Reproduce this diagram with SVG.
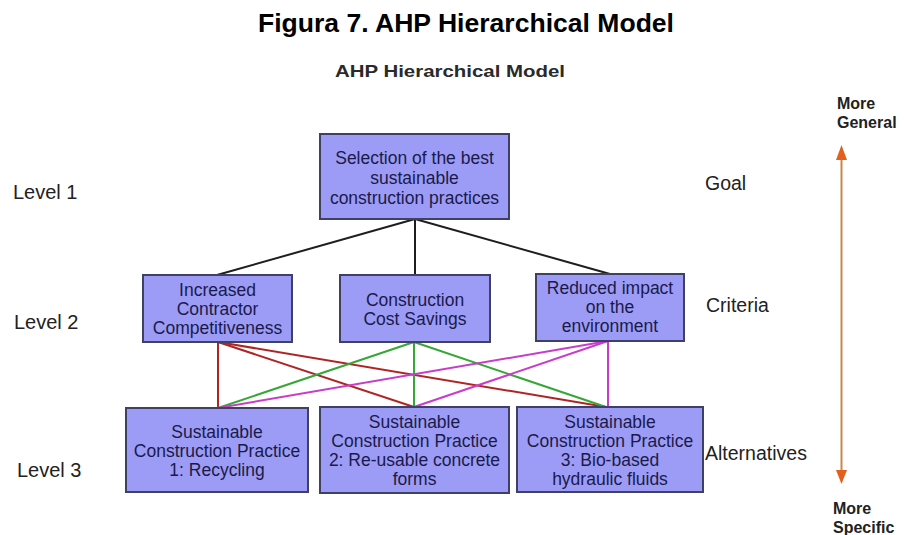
<svg xmlns="http://www.w3.org/2000/svg" width="904" height="535" viewBox="0 0 904 535">
  <style>
    .title { font-family: "Liberation Sans", Arial, sans-serif; font-weight: bold; fill: #000; }
    .sub { font-family: "Liberation Sans", Arial, sans-serif; font-weight: bold; fill: #2a2a2a; }
    .box { fill: #9c9cf6; stroke: #3e4064; stroke-width: 2; }
    .btxt { font-family: "Liberation Sans", Arial, sans-serif; font-size: 17.5px; fill: #1a1a4a; text-anchor: middle; }
    .side { font-family: "Liberation Sans", Arial, sans-serif; font-size: 20px; fill: #222; }
    .tag { font-family: "Liberation Sans", Arial, sans-serif; font-size: 19.5px; fill: #222; }
    .dir { font-family: "Liberation Sans", Arial, sans-serif; font-size: 16px; font-weight: bold; fill: #222; }
    .k { stroke: #1e1e1e; stroke-width: 2; fill: none; }
    .r { stroke: #b02424; stroke-width: 2; fill: none; }
    .g { stroke: #36a636; stroke-width: 2; fill: none; }
    .m { stroke: #c83cc8; stroke-width: 2; fill: none; }
  </style>

  <!-- headings -->
  <text class="title" x="466" y="32" font-size="26" text-anchor="middle" textLength="416" lengthAdjust="spacingAndGlyphs">Figura 7. AHP Hierarchical Model</text>
  <text class="sub" x="450" y="77" font-size="17" text-anchor="middle" textLength="230" lengthAdjust="spacingAndGlyphs">AHP Hierarchical Model</text>

  <!-- level labels -->
  <text class="side" x="13" y="199">Level 1</text>
  <text class="side" x="14" y="329">Level 2</text>
  <text class="side" x="17" y="477">Level 3</text>

  <text class="tag" x="705" y="190">Goal</text>
  <text class="tag" x="706" y="312">Criteria</text>
  <text class="tag" x="705" y="460">Alternatives</text>

  <!-- connectors -->
  <g id="connectors">
    <line class="k" x1="415" y1="219" x2="217" y2="275"/>
    <line class="k" x1="415" y1="219" x2="415" y2="275"/>
    <line class="k" x1="415" y1="219" x2="610" y2="274"/>

    <line class="r" x1="218" y1="342" x2="218" y2="408"/>
    <line class="r" x1="218" y1="342" x2="414" y2="407"/>
    <line class="r" x1="218" y1="342" x2="606" y2="407"/>

    <line class="g" x1="414" y1="342" x2="218" y2="408"/>
    <line class="g" x1="414" y1="342" x2="414" y2="407"/>
    <line class="g" x1="414" y1="342" x2="606" y2="407"/>

    <line class="m" x1="608" y1="341" x2="218" y2="408"/>
    <line class="m" x1="608" y1="341" x2="414" y2="407"/>
    <line class="m" x1="608" y1="341" x2="608" y2="407"/>
  </g>

  <!-- generality axis -->
  <g id="axis">
    <line x1="841.5" y1="158" x2="841.5" y2="472" stroke="#c8884a" stroke-width="2"/>
    <polygon points="841.5,145 836,160 847,160" fill="#e2601c"/>
    <polygon points="841.5,484 836,470 847,470" fill="#e2601c"/>
    <text class="dir" x="837" y="109">More</text>
    <text class="dir" x="837" y="128">General</text>
    <text class="dir" x="833" y="514">More</text>
    <text class="dir" x="833" y="533">Specific</text>
  </g>

  <!-- goal -->
  <g id="goal">
    <rect class="box" x="320" y="134" width="189" height="85"/>
    <text class="btxt" x="414.5" y="164">Selection of the best</text>
    <text class="btxt" x="414.5" y="184">sustainable</text>
    <text class="btxt" x="414.5" y="204">construction practices</text>
  </g>

  <!-- criteria -->
  <g id="crit-competitiveness">
    <rect class="box" x="143" y="275" width="149" height="67"/>
    <text class="btxt" x="217.5" y="296">Increased</text>
    <text class="btxt" x="217.5" y="315">Contractor</text>
    <text class="btxt" x="217.5" y="334">Competitiveness</text>
  </g>
  <g id="crit-cost">
    <rect class="box" x="340" y="275" width="150" height="67"/>
    <text class="btxt" x="415" y="306">Construction</text>
    <text class="btxt" x="415" y="325">Cost Savings</text>
  </g>
  <g id="crit-environment">
    <rect class="box" x="536" y="274" width="148" height="67"/>
    <text class="btxt" x="610" y="294">Reduced impact</text>
    <text class="btxt" x="610" y="313">on the</text>
    <text class="btxt" x="610" y="332">environment</text>
  </g>

  <!-- alternatives -->
  <g id="alt-recycling">
    <rect class="box" x="126" y="408" width="182" height="84"/>
    <text class="btxt" x="217" y="438">Sustainable</text>
    <text class="btxt" x="217" y="457">Construction Practice</text>
    <text class="btxt" x="217" y="476">1: Recycling</text>
  </g>
  <g id="alt-forms">
    <rect class="box" x="320" y="407" width="189" height="86"/>
    <text class="btxt" x="414.5" y="428">Sustainable</text>
    <text class="btxt" x="414.5" y="447">Construction Practice</text>
    <text class="btxt" x="414.5" y="466">2: Re-usable concrete</text>
    <text class="btxt" x="414.5" y="485">forms</text>
  </g>
  <g id="alt-fluids">
    <rect class="box" x="517" y="407" width="186" height="85"/>
    <text class="btxt" x="610" y="428">Sustainable</text>
    <text class="btxt" x="610" y="447">Construction Practice</text>
    <text class="btxt" x="610" y="466">3: Bio-based</text>
    <text class="btxt" x="610" y="485">hydraulic fluids</text>
  </g>
</svg>
